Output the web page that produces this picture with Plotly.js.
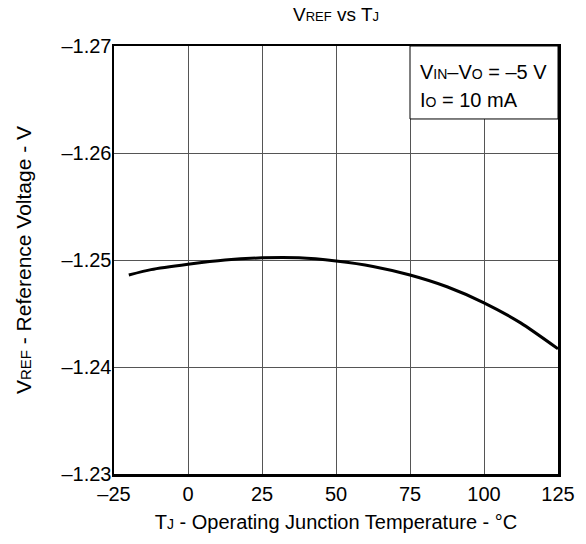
<!DOCTYPE html>
<html>
<head>
<meta charset="utf-8">
<script src="https://cdn.plot.ly/plotly-3.0.1.min.js"></script>
<style>html,body{margin:0;padding:0;background:#fff;}</style>
</head>
<body>
<div id="chart" style="width:586px;height:544px;"></div>
<script>
// Junction temperature (°C)
const tempC = [-20, -12.5, 0, 12.5, 25, 37.5, 50, 62.5, 75, 87.5, 100, 112.5, 125];
// Reference voltage (V)
const vref = [-1.2486, -1.2491, -1.2496, -1.2500, -1.2502, -1.2502, -1.2499, -1.2494, -1.2486, -1.2475, -1.2460, -1.2441, -1.2417];

const xTickVals = [-25, 0, 25, 50, 75, 100, 125];
const xTickText = ['–25', '0', '25', '50', '75', '100', '125'];
const yTickVals = [-1.27, -1.26, -1.25, -1.24, -1.23];
const yTickText = ['–1.27', '–1.26', '–1.25', '–1.24', '–1.23'];

const FONT = 'Liberation Sans, Arial, sans-serif';
const sub = (s, px) => '<span style="font-size:' + px + 'px">' + s + '</span>';

const trace = {
  x: tempC, y: vref, type: 'scatter', mode: 'lines',
  line: {color: '#000', width: 3, shape: 'spline', smoothing: 0.6},
  hoverinfo: 'skip'
};

const layout = {
  width: 586, height: 544,
  margin: {l: 114, r: 28, t: 46, b: 70},
  paper_bgcolor: '#fff', plot_bgcolor: '#fff',
  showlegend: false,
  font: {family: FONT, color: '#000', size: 20},
  title: {
    text: 'V' + sub('REF', 13) + ' vs T' + sub('J', 13),
    font: {family: FONT, size: 19, color: '#000'},
    xref: 'paper', x: 0.5, xanchor: 'center', yref: 'container', y: 0.974, yanchor: 'middle'
  },
  xaxis: {
    range: [-25, 125], tickvals: xTickVals, ticktext: xTickText,
    showgrid: true, gridcolor: '#555', gridwidth: 1,
    showline: true, linecolor: '#000', linewidth: 2.5, mirror: true,
    zeroline: false, ticks: '', ticklen: 0,
    tickfont: {family: FONT, size: 20, color: '#000'},
    title: {text: 'T' + sub('J', 14) + ' - Operating Junction Temperature - °C',
            font: {family: FONT, size: 20, color: '#000'}, standoff: 12}
  },
  yaxis: {
    range: [-1.23, -1.27], tickvals: yTickVals, ticktext: yTickText,
    showgrid: true, gridcolor: '#555', gridwidth: 1,
    showline: true, linecolor: '#000', linewidth: 2.5, mirror: true,
    zeroline: false, ticks: '', ticklen: 0, ticklabelstandoff: -4,
    tickfont: {family: FONT, size: 20, color: '#000'},
    title: {text: 'V' + sub('REF', 15) + ' - Reference Voltage - V',
            font: {family: FONT, size: 21, color: '#000'}, standoff: 24}
  },
  shapes: [{
    type: 'rect', xref: 'x', yref: 'y', x0: 75, x1: 125, y0: -1.27, y1: -1.26318,
    fillcolor: '#fff', line: {color: '#000', width: 1}, layer: 'above'
  }],
  annotations: [{
    xref: 'x', yref: 'y', x: 77.7, y: -1.26757, xanchor: 'left', yanchor: 'middle',
    align: 'left', showarrow: false,
    text: 'V' + sub('IN', 14) + '–V' + sub('O', 14) + ' = –5 V',
    font: {family: FONT, size: 20, color: '#000'}
  }, {
    xref: 'x', yref: 'y', x: 77.7, y: -1.26495, xanchor: 'left', yanchor: 'middle',
    align: 'left', showarrow: false,
    text: 'I' + sub('O', 14) + ' = 10 mA',
    font: {family: FONT, size: 20, color: '#000'}
  }]
};

Plotly.newPlot('chart', [trace], layout, {staticPlot: true, displayModeBar: false});
</script>
</body>
</html>
